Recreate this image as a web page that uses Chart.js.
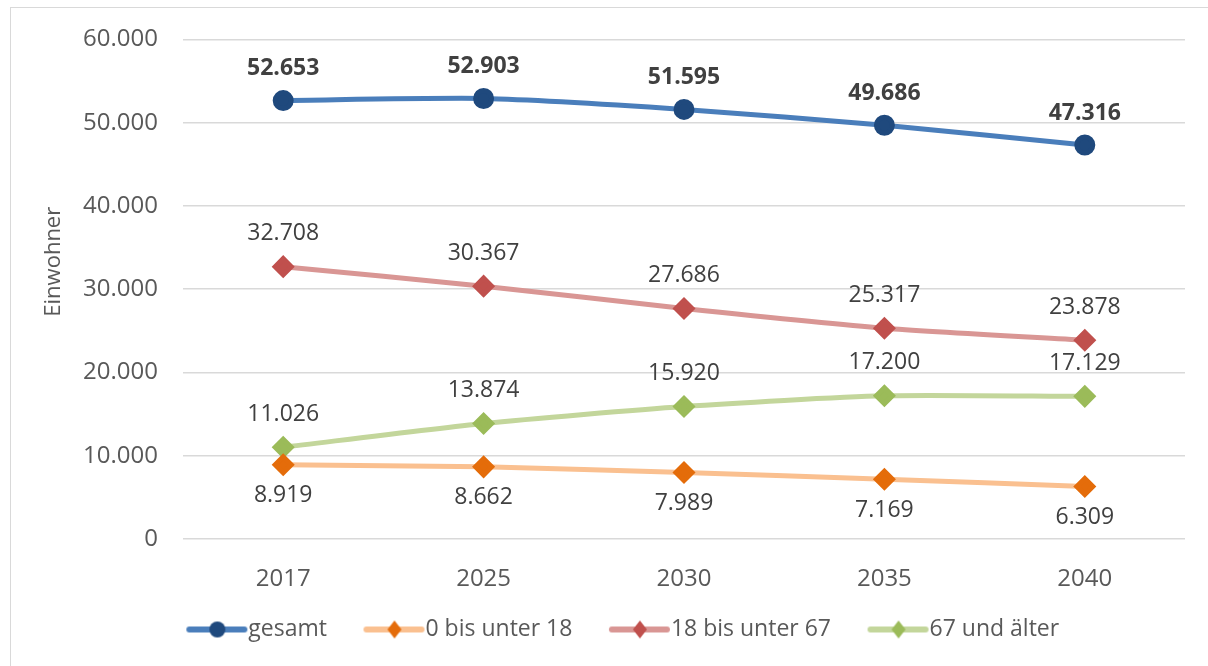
<!DOCTYPE html>
<html>
<head>
<meta charset="utf-8">
<script src="https://cdn.jsdelivr.net/npm/chart.js@4"></script>
<style>
  html, body { margin: 0; padding: 0; background: #fff; overflow: hidden; }
  #wrap { position: relative; width: 1208px; height: 666px; }
  #frame { position: absolute; left: 10px; top: 7px; width: 1240px; height: 700px; border: 1px solid #d9d9d9; }
  canvas { position: absolute; left: 0; top: 0; }
</style>
</head>
<body>
<div id="wrap">
  <div id="frame"></div>
  <canvas id="myChart" width="1208" height="666"></canvas>
</div>
<script>
var years = ['2017', '2025', '2030', '2035', '2040'];
var gesamt = [52653, 52903, 51595, 49686, 47316];
var unter18 = [8919, 8662, 7989, 7169, 6309];
var bis67 = [32708, 30367, 27686, 25317, 23878];
var ab67 = [11026, 13874, 15920, 17200, 17129];
var yTicks = [0, 10000, 20000, 30000, 40000, 50000, 60000];
var yTitle = 'Einwohner';

var FONT = '"Open Sans", sans-serif';

function fmt(v) {
    var s = String(Math.round(v));
    return s.replace(/\B(?=(\d{3})+(?!\d))/g, '.');
}

// picture for the legend: line with marker, empty space on the left
function legendIcon(lineColor, markColor, style) {
    var c = document.createElement('canvas');
    c.width = 89; c.height = 20;
    var g = c.getContext('2d');
    g.strokeStyle = lineColor;
    g.lineWidth = 6;
    g.lineCap = 'round';
    g.beginPath(); g.moveTo(30, 10); g.lineTo(85, 10); g.stroke();
    g.fillStyle = markColor;
    g.beginPath();
    if (style == 'circle') {
        g.arc(58, 10, 8, 0, Math.PI * 2);
    } else {
        g.moveTo(58, 1); g.lineTo(65, 10); g.lineTo(58, 19); g.lineTo(51, 10); g.closePath();
    }
    g.fill();
    return c;
}

// value labels next to the points + axis title (sits a bit above centre in the original)
var pointLabels = {
    id: 'pointLabels',
    afterDatasetsDraw: function(chart) {
        var ctx = chart.ctx;
        ctx.save();
        ctx.textAlign = 'center';
        ctx.textBaseline = 'middle';
        ctx.fillStyle = '#404040';
        chart.data.datasets.forEach(function(ds, i) {
            var meta = chart.getDatasetMeta(i);
            ctx.font = (ds.labelBold ? 'bold ' : '') + '23px ' + FONT;
            meta.data.forEach(function(pt, j) {
                ctx.fillText(fmt(ds.data[j]), pt.x, pt.y + ds.labelOffset);
            });
        });
        ctx.restore();

        var area = chart.chartArea;
        ctx.save();
        ctx.translate(54, area.top + (area.bottom - area.top) * 0.445);
        ctx.rotate(-Math.PI / 2);
        ctx.textAlign = 'center';
        ctx.textBaseline = 'middle';
        ctx.fillStyle = '#595959';
        ctx.font = '22px ' + FONT;
        ctx.fillText(yTitle, 0, 0);
        ctx.restore();
    }
};

var ctx2 = document.getElementById('myChart').getContext('2d');
var chart = new Chart(ctx2, {
    type: 'line',
    data: {
        labels: years,
        datasets: [{
            label: 'gesamt',
            data: gesamt,
            borderColor: '#4a7ebb',
            backgroundColor: '#1f497d',
            pointBackgroundColor: '#1f497d',
            pointBorderColor: '#1f497d',
            pointStyle: 'circle',
            pointRadius: 8,
            borderWidth: 5,
            labelBold: true,
            labelOffset: -32,
            icon: legendIcon('#4a7ebb', '#1f497d', 'circle')
        }, {
            label: '0 bis unter 18',
            data: unter18,
            borderColor: '#fac090',
            backgroundColor: '#e46c0a',
            pointBackgroundColor: '#e46c0a',
            pointBorderColor: '#e46c0a',
            pointStyle: 'rectRot',
            pointRadius: 8,
            borderWidth: 5,
            labelOffset: 31,
            icon: legendIcon('#fac090', '#e46c0a', 'diamond')
        }, {
            label: '18 bis unter 67',
            data: bis67,
            borderColor: '#d99694',
            backgroundColor: '#c0504d',
            pointBackgroundColor: '#c0504d',
            pointBorderColor: '#c0504d',
            pointStyle: 'rectRot',
            pointRadius: 8,
            borderWidth: 5,
            labelOffset: -33,
            icon: legendIcon('#d99694', '#c0504d', 'diamond')
        }, {
            label: '67 und älter',
            data: ab67,
            borderColor: '#c3d69b',
            backgroundColor: '#9bbb59',
            pointBackgroundColor: '#9bbb59',
            pointBorderColor: '#9bbb59',
            pointStyle: 'rectRot',
            pointRadius: 8,
            borderWidth: 5,
            labelOffset: -33,
            icon: legendIcon('#c3d69b', '#9bbb59', 'diamond')
        }]
    },
    options: {
        responsive: false,
        animation: false,
        tension: 0.22,
        layout: { padding: { top: 24, right: 23, bottom: 15, left: 45 } },
        plugins: {
            tooltip: { enabled: false },
            legend: {
                position: 'bottom',
                labels: {
                    usePointStyle: true,
                    pointStyleWidth: 66,
                    padding: 21,
                    color: '#595959',
                    font: { family: FONT, size: 23 },
                    generateLabels: function(chart) {
                        return chart.data.datasets.map(function(ds, i) {
                            return {
                                text: ds.label,
                                pointStyle: ds.icon,
                                fillStyle: ds.backgroundColor,
                                strokeStyle: ds.borderColor,
                                lineWidth: 0,
                                fontColor: '#595959',
                                datasetIndex: i
                            };
                        });
                    }
                }
            }
        },
        scales: {
            x: {
                offset: true,
                grid: { display: false },
                border: { display: false },
                ticks: { color: '#595959', font: { family: FONT, size: 24 }, padding: 18 },
                afterFit: function(scale) { scale.height = 58; }
            },
            y: {
                min: 0,
                max: 60000,
                afterBuildTicks: function(scale) {
                    scale.ticks = yTicks.map(function(v) { return { value: v }; });
                },
                grid: { color: '#d9d9d9', lineWidth: 1.5, drawTicks: false },
                border: { display: false },
                ticks: {
                    color: '#595959',
                    font: { family: FONT, size: 24 },
                    padding: 25,
                    callback: function(v) { return fmt(v); }
                },
                title: { display: false },
                afterFit: function(scale) { scale.width = 138; }
            }
        }
    },
    plugins: [pointLabels]
});
</script>
</body>
</html>
